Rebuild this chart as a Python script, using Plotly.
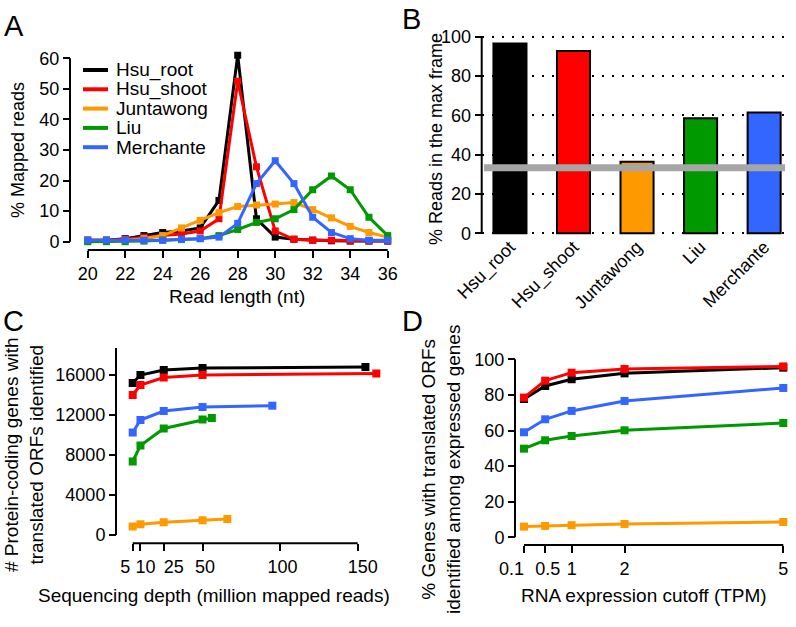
import plotly.graph_objects as go

# ---------------- data ----------------
names = ["Hsu_root", "Hsu_shoot", "Juntawong", "Liu", "Merchante"]
colors = ["#000000", "#FF0000", "#FF9900", "#009900", "#3366FF"]

# Panel A: read length distribution (% mapped reads)
read_len = list(range(20, 37))
a_hsu_root = [0.5, 0.5, 1.0, 2.0, 3.0, 3.5, 4.5, 13.5, 61.0, 7.5, 1.5, 0.8, 0.5, 0.3, 0.2, 0.2, 0.2]
a_hsu_shoot = [0.5, 0.5, 0.8, 1.5, 2.0, 2.5, 3.5, 7.5, 52.5, 24.5, 3.5, 0.8, 0.5, 0.5, 0.3, 0.3, 0.3]
a_juntawong = [0.3, 0.3, 0.5, 1.0, 2.0, 4.5, 7.0, 9.5, 11.5, 12.0, 12.3, 12.8, 10.5, 7.8, 5.0, 3.0, 1.5]
a_liu = [0.0, 0.0, 0.0, 0.2, 0.5, 0.7, 1.0, 2.0, 4.0, 6.3, 7.5, 10.5, 17.0, 21.5, 17.0, 8.0, 2.0]
a_merchante = [0.5, 0.5, 0.5, 0.5, 0.5, 0.8, 1.0, 1.5, 6.0, 19.0, 26.5, 19.0, 8.0, 3.0, 1.0, 0.5, 0.5]
a_series = [a_hsu_root, a_hsu_shoot, a_juntawong, a_liu, a_merchante]

# Panel B: % reads in the max frame
b_values = [96.6, 92.7, 36.4, 58.5, 61.5]
chance_level = 33.3

# Panel C: genes with translated ORFs vs sequencing depth
c_x_hsu_root = [5, 10, 25, 50, 155]
c_y_hsu_root = [15200, 16000, 16500, 16700, 16800]
c_x_hsu_shoot = [5, 10, 25, 50, 162]
c_y_hsu_shoot = [14000, 15000, 15750, 16000, 16150]
c_x_juntawong = [5, 10, 25, 50, 66]
c_y_juntawong = [850, 1070, 1270, 1470, 1600]
c_x_liu = [5, 10, 25, 50, 56]
c_y_liu = [7350, 8950, 10650, 11550, 11700]
c_x_merchante = [5, 10, 25, 50, 95]
c_y_merchante = [10250, 11500, 12400, 12800, 12930]
c_series = [(c_x_hsu_root, c_y_hsu_root), (c_x_hsu_shoot, c_y_hsu_shoot),
            (c_x_juntawong, c_y_juntawong), (c_x_liu, c_y_liu),
            (c_x_merchante, c_y_merchante)]
c_ticks = [5, 10, 25, 50, 100, 150]
c_ticktext = ["5", "10", "25", "50", "100", "150"]
c_yticks = [0, 4000, 8000, 12000, 16000]

# Panel D: % genes with translated ORFs vs RNA cutoff
d_cutoff = [0.1, 0.5, 1, 2, 5]
d_ticktext = ["0.1", "0.5", "1", "2", "5"]
d_hsu_root = [77.7, 85.0, 88.8, 92.1, 95.3]
d_hsu_shoot = [78.5, 88.0, 92.5, 94.6, 96.0]
d_juntawong = [6.0, 6.4, 6.8, 7.5, 8.6]
d_liu = [49.8, 54.5, 56.9, 60.1, 64.2]
d_merchante = [59.0, 66.3, 71.0, 76.6, 83.9]
d_series = [d_hsu_root, d_hsu_shoot, d_juntawong, d_liu, d_merchante]
d_yticks = [0, 20, 40, 60, 80, 100]

# ---------------- layout helpers ----------------
W, H = 796, 627
FONT = "Liberation Sans, Arial, Helvetica, sans-serif"
TICK = 18
TITLE = 19
NB = "\u00a0"


def px(x):
    return x / W


def py(y):
    return 1 - y / H


def rng(v0, p0, v1, p1, d0, d1):
    s = (p1 - p0) / (v1 - v0)
    return [v0 + (d0 - p0) / s, v0 + (d1 - p0) / s]


def nudge(labels, shifts):
    # pad crowded tick labels with non-breaking spaces so they sit apart (as in the original)
    out = []
    for lab, s in zip(labels, shifts):
        if s < 0:
            out.append(lab + NB * (-s))
        elif s > 0:
            out.append(NB * s + lab)
        else:
            out.append(lab)
    return out


fig = go.Figure()
draw_order = [0, 1, 2, 3, 4]

# Panel A traces
for i in draw_order:
    fig.add_trace(go.Scatter(x=read_len, y=a_series[i], mode="lines+markers",
                             line=dict(color=colors[i], width=3),
                             marker=dict(symbol="square", size=7, color=colors[i]),
                             showlegend=False, xaxis="x", yaxis="y", cliponaxis=False))

# Panel B bars
fig.add_trace(go.Bar(x=names, y=b_values, marker=dict(color=colors, line=dict(color="black", width=2)),
                     width=0.52, showlegend=False, xaxis="x2", yaxis="y2"))

# Panel C traces
for i in draw_order:
    cx, cy = c_series[i]
    fig.add_trace(go.Scatter(x=cx, y=cy, mode="lines+markers",
                             line=dict(color=colors[i], width=3),
                             marker=dict(symbol="square", size=8, color=colors[i]),
                             showlegend=False, xaxis="x3", yaxis="y3", cliponaxis=False))

# Panel D traces
for i in draw_order:
    fig.add_trace(go.Scatter(x=d_cutoff, y=d_series[i], mode="lines+markers",
                             line=dict(color=colors[i], width=3),
                             marker=dict(symbol="square", size=8, color=colors[i]),
                             showlegend=False, xaxis="x4", yaxis="y4", cliponaxis=False))

common_ax = dict(showgrid=False, zeroline=False, showline=False, ticks="outside",
                 ticklen=7, tickwidth=2, tickcolor="black", automargin=False, tickangle=0,
                 tickfont=dict(family=FONT, size=TICK, color="black"))

# Panel A axes
xA = rng(20, 87.7, 36, 387.7, 76, 395)
yA = rng(0, 241.7, 60, 58.3, 248, 48)
# Panel B axes
xB = [-0.44, 4.36]
yB = rng(0, 233.3, 100, 36.7, 236, 30)
# Panel C axes
xC = rng(5, 132.7, 150, 357.7, 118, 392)
yC = rng(0, 535, 16000, 375, 540, 340)
# Panel D axes
xD = rng(0.1, 524, 5, 783.3, 517, 792)
yD = rng(0, 537.3, 100, 359.3, 541, 350)

layout = dict(
    width=W, height=H, autosize=False,
    margin=dict(l=0, r=0, t=0, b=0, pad=0, autoexpand=False),
    paper_bgcolor="white", plot_bgcolor="rgba(0,0,0,0)",
    font=dict(family=FONT, color="black"),
    hovermode=False,
    xaxis=dict(common_ax, domain=[px(76), px(395)], range=xA, anchor="free", position=py(250),
               tickvals=list(range(20, 37, 2))),
    yaxis=dict(common_ax, domain=[py(248), py(48)], range=yA, anchor="free", position=px(70),
               tickvals=[0, 10, 20, 30, 40, 50, 60]),
    xaxis2=dict(showgrid=False, zeroline=False, showline=False, ticks="", automargin=False,
                tickangle=-45, tickfont=dict(family=FONT, size=TICK, color="black"),
                domain=[px(482), px(787)], range=xB, anchor="free", position=py(232)),
    yaxis2=dict(common_ax, domain=[py(236), py(30)], range=yB, anchor="free", position=px(481.7),
                tickvals=[0, 20, 40, 60, 80, 100], showgrid=True, gridcolor="black",
                gridwidth=2, griddash="2px,8px"),
    xaxis3=dict(common_ax, domain=[px(118), px(392)], range=xC, anchor="free", position=py(543.3),
                tickvals=c_ticks, ticktext=nudge(c_ticktext, [-3, 2, 4, 1, 1, 2])),
    yaxis3=dict(common_ax, domain=[py(540), py(340)], range=yC, anchor="free", position=px(116),
                tickvals=c_yticks, tickformat="d"),
    xaxis4=dict(common_ax, domain=[px(517), px(792)], range=xD, anchor="free", position=py(545),
                tickvals=d_cutoff, ticktext=nudge(d_ticktext, [-5, 1, 0, 0, 0])),
    yaxis4=dict(common_ax, domain=[py(541), py(350)], range=yD, anchor="free", position=px(515),
                tickvals=d_yticks),
)
fig.update_layout(**layout)

shapes = []
line_style = dict(color="black", width=2)
# axis lines (R style, from first to last tick)
shapes.append(dict(type="line", xref="paper", yref="y", x0=px(70), x1=px(70), y0=0, y1=60, line=line_style))
shapes.append(dict(type="line", xref="x", yref="paper", x0=20, x1=36, y0=py(250), y1=py(250), line=line_style))
shapes.append(dict(type="line", xref="paper", yref="y2", x0=px(481.7), x1=px(481.7), y0=0, y1=100, line=line_style))
shapes.append(dict(type="line", xref="paper", yref="y3", x0=px(116), x1=px(116), y0=0, y1=18700, line=line_style))
shapes.append(dict(type="line", xref="x3", yref="paper", x0=5, x1=150, y0=py(543.3), y1=py(543.3), line=line_style))
shapes.append(dict(type="line", xref="paper", yref="y4", x0=px(515), x1=px(515), y0=0, y1=100, line=line_style))
shapes.append(dict(type="line", xref="x4", yref="paper", x0=0.1, x1=5, y0=py(545), y1=py(545), line=line_style))
# chance-level line in panel B
shapes.append(dict(type="line", xref="paper", yref="y2", x0=px(484), x1=px(785), y0=chance_level,
                   y1=chance_level, line=dict(color="#A6A6A6", width=7), layer="above"))

annotations = []
# legend in panel A (drawn manually to match spacing)
for i, nm in enumerate(names):
    yy = 70 + i * 19.3
    shapes.append(dict(type="line", xref="paper", yref="paper", x0=px(83), x1=px(108),
                       y0=py(yy), y1=py(yy), line=dict(color=colors[i], width=4)))
    annotations.append(dict(text=nm, xref="paper", yref="paper", x=px(114), y=py(yy),
                            xanchor="left", yanchor="middle", showarrow=False,
                            font=dict(family=FONT, size=TITLE, color="black")))

# panel letters
for letter, (lx, ly) in zip("ABCD", [(14, 26), (411, 19), (13, 321), (412, 321)]):
    annotations.append(dict(text=letter, xref="paper", yref="paper", x=px(lx), y=py(ly),
                            xanchor="center", yanchor="middle", showarrow=False,
                            font=dict(family=FONT, size=29, color="black")))

# axis titles: text, x, y, angle, size
titles = [
    ("% Mapped reads", 18, 150, -90, 18),
    ("Read length (nt)", 237, 297, 0, 19),
    ("% Reads in the max frame", 436, 139, -90, 18),
    ("# Protein-coding genes with<br>translated ORFs identified", 24, 455, -90, 19),
    ("Sequencing depth (million mapped reads)", 214, 595, 0, 19),
    ("% Genes with translated ORFs<br>identified among expressed genes", 441, 470, -90, 19),
    ("RNA expression cutoff (TPM)", 644, 595, 0, 19),
]
for txt, tx, ty, ang, fs in titles:
    annotations.append(dict(text=txt, xref="paper", yref="paper", x=px(tx), y=py(ty),
                            xanchor="center", yanchor="middle", showarrow=False, textangle=ang,
                            font=dict(family=FONT, size=fs, color="black")))

fig.update_layout(shapes=shapes, annotations=annotations)
fig.write_html("out.html", config={"displayModeBar": False},
               post_script="document.body.style.margin='0';document.body.style.padding='0';")
